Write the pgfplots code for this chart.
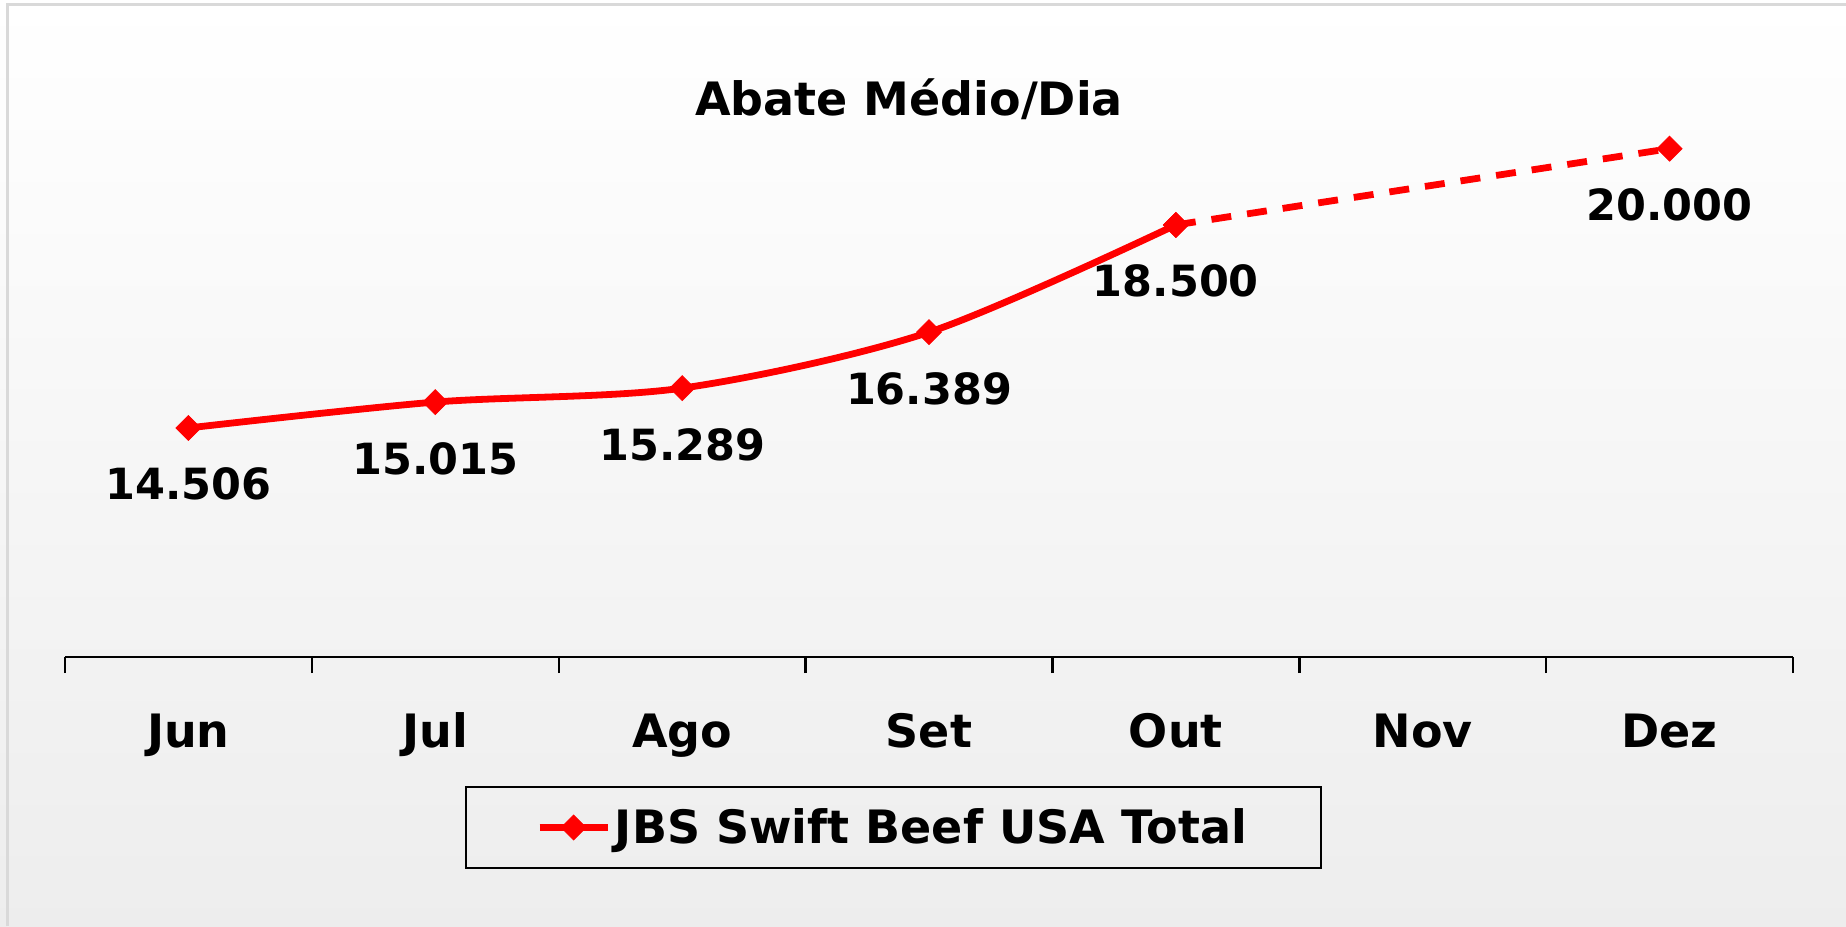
\documentclass[border=0pt]{standalone}
\usepackage{fontspec}
\setmainfont{DejaVu Sans}
\usepackage{pgfplots}
\pgfplotsset{compat=1.18}
\definecolor{jbsred}{RGB}{255,0,0}
\newcommand{\bigfont}{\bfseries\fontsize{23}{27}\selectfont}
\newcommand{\lblfont}{\bfseries\fontsize{21.5}{25}\selectfont}
\begin{document}
\begin{tikzpicture}
\fill[top color=white, bottom color=black!7] (0,0) rectangle (923pt,463pt);
\useasboundingbox (0,0) rectangle (923pt,463pt);
\draw[line width=1.5pt, color=black!15] (3.5pt,0) -- (3.5pt,460.5pt) -- (923pt,460.5pt);
\begin{axis}[
  at={(32.5pt,134.5pt)}, anchor=south west,
  scale only axis, width=864pt, height=305pt,
  xmin=-0.5, xmax=6.5, ymin=10000, ymax=22000,
  axis y line=none, axis x line*=bottom,
  xtick={0,...,6}, xticklabels={Jun,Jul,Ago,Set,Out,Nov,Dez},
  major tick length=0pt,
  minor xtick={-0.5,0.5,1.5,2.5,3.5,4.5,5.5,6.5},
  minor tick length=8pt,
  tick align=outside,
  x axis line style={line width=1.2pt, black, -},
  every tick/.style={black, line width=1.2pt},
  xticklabel style={font=\bigfont, anchor=base, yshift=-45pt},
  clip=false,
  legend style={at={(0.4795,-0.2795)}, anchor=center, draw=black, line width=1pt,
    fill=none, font=\bigfont, inner xsep=35pt, inner ysep=9pt},
  legend image code/.code={\draw[mark repeat=2,mark phase=2,#1] plot coordinates {(0pt,0pt)(17pt,0pt)(34pt,0pt)};},
]
\addplot[color=jbsred, line width=3.4pt, smooth, mark=square*,
  mark options={rotate=45, solid, line width=0.4pt}, mark size=4.4pt,
  point meta=explicit symbolic, nodes near coords,
  nodes near coords style={font=\lblfont, anchor=base, yshift=-36pt, black}]
  table[meta=label] {
x y label
0 14506 14.506
1 15015 15.015
2 15289 15.289
3 16389 16.389
4 18500 18.500
};
\addlegendentry{JBS Swift Beef USA Total}
\addplot[forget plot, color=jbsred, line width=3.4pt, dash pattern=on 10pt off 8pt]
  table {
x y
4 18500
6 20000
};
\addplot[forget plot, color=jbsred, only marks, mark=square*,
  mark options={rotate=45, solid, line width=0.4pt}, mark size=4.4pt,
  point meta=explicit symbolic, nodes near coords,
  nodes near coords style={font=\lblfont, anchor=base, yshift=-36pt, black}]
  table[meta=label] {
x y label
4 18500 {}
6 20000 20.000
};
\end{axis}
\node[font=\bigfont] at (454.5pt,413.5pt) {Abate Médio/Dia};
\end{tikzpicture}
\end{document}
